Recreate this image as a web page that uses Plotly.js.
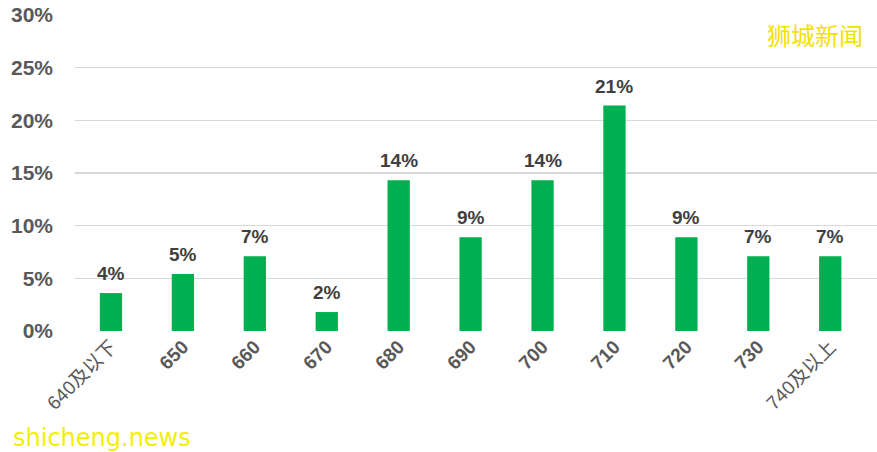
<!DOCTYPE html>
<html><head><meta charset="utf-8">
<script src="https://cdn.plot.ly/plotly-3.0.1.min.js"></script>
<style>body{margin:0;background:#fff}#c{width:877px;height:452px}</style>
</head><body><div id="c"></div>
<script>
const categories = ["640及以下","650","660","670","680","690","700","710","720","730","740及以上"];
const values = [3.6, 5.4, 7.1, 1.8, 14.3, 8.9, 14.3, 21.4, 8.9, 7.1, 7.1];
const valueLabels = ["4%","5%","7%","2%","14%","9%","14%","21%","9%","7%","7%"];
const yTicks = [0,5,10,15,20,25,30];
const yTickLabels = ["0%","5%","10%","15%","20%","25%","30%"];

const tickText = categories.map(c => /^\d+$/.test(c) ? "<b>"+c+"</b>" : c);

const trace = {
  type: "bar", x: categories, y: values,
  marker: {color: "#00B050"},
  hoverinfo: "none"
};
const labelAnns = categories.map((c, i) => ({
  x: i, y: values[i], xref: "x", yref: "y",
  text: "<b>" + valueLabels[i] + "</b>", showarrow: false,
  xanchor: "center", yanchor: "bottom", yshift: 7,
  font: {family: "Liberation Sans, Arial, sans-serif", size: 19, color: "#404040"}
}));
const layout = {
  width: 877, height: 452,
  margin: {l: 75, r: 0, t: 15, b: 121},
  paper_bgcolor: "#fff", plot_bgcolor: "#fff",
  bargap: 0.69,
  showlegend: false,
  xaxis: {
    type: "category", range: [-0.5, 10.65],
    tickvals: categories, ticktext: tickText, tickangle: -45,
    tickfont: {family: "Liberation Sans, Noto Sans CJK SC, Arial, sans-serif", size: 19, color: "#595959"},
    showgrid: false, zeroline: false, showline: false, ticks: ""
  },
  yaxis: {
    range: [0, 30], tickvals: yTicks, ticktext: yTickLabels.map(t => "<b>"+t+"</b>"),
    tickfont: {family: "Liberation Sans, Arial, sans-serif", size: 21, color: "#595959"},
    showgrid: true, gridcolor: "#d9d9d9", gridwidth: 1.5,
    zeroline: false, showline: false, ticks: "", ticklabelstandoff: 21
  },
  annotations: labelAnns.concat([
    {xref: "paper", yref: "paper", x: 0.985, y: 1.0, xanchor: "right", yanchor: "top",
     text: "狮城新闻", showarrow: false,
     font: {family: "Noto Sans CJK SC, sans-serif", size: 24, color: "#F2E200"}},
    {xref: "paper", yref: "paper", x: -0.08, y: -0.39, xanchor: "left", yanchor: "bottom",
     text: "shicheng.news", showarrow: false,
     font: {family: "DejaVu Sans, sans-serif", size: 24, color: "#F2F000"}}
  ])
};
Plotly.newPlot("c", [trace], layout, {staticPlot: true, displayModeBar: false});
</script></body></html>
